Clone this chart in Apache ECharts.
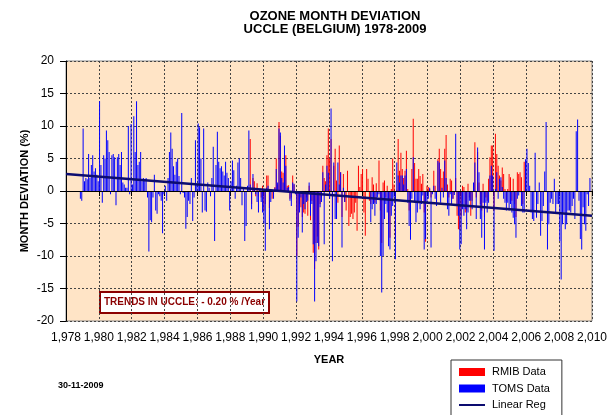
<!DOCTYPE html>
<html>
<head>
<meta charset="utf-8">
<script src="https://cdn.jsdelivr.net/npm/echarts@6/dist/echarts.min.js"></script>
<style>
  html, body { margin: 0; padding: 0; background: #fff; }
  #chart { width: 610px; height: 415px; }
</style>
</head>
<body>
<div id="chart"></div>
<script>
    // monthly ozone deviations (%), one row per year, Jan..Dec
    var tomsStart = 1978;
    var toms = [
        null, null, null, null, null, null, null, null, null, null, -1.2, -1.5,   // 1978
        9.6, 1.5, 2.0, 1.8, 5.7, 2.0, 4.0, 5.5, 3.0, 3.5, 2.5, 1.5,               // 1979
        13.8, 4.0, -1.8, 5.5, 5.0, 9.3, 7.8, 6.0, -0.5, 5.5, 5.7, 5.2,            // 1980
        -2.2, 5.2, 5.7, 4.0, 6.0, 1.3, 1.0, 0.5, 0.5, 10.0, -0.5, 10.3,           // 1981
        1.0, 11.5, 6.0, 13.8, 4.0, 4.5, 6.0, 1.5, 2.0, 1.8, 2.0, -1.0,            // 1982
        -9.3, -4.5, -4.8, -1.0, 2.5, -3.0, -3.5, -0.5, -0.8, -1.5, -6.5, -0.5,    // 1983
        0.8, -1.5, 2.0, 6.0, 9.0, 6.5, 3.8, 2.5, 4.5, 5.0, 2.3, -0.5,             // 1984
        12.0, -0.3, -1.0, -5.8, -4.0, -1.5, -2.0, 2.0, -4.6, -1.0, 7.8, 1.0,      // 1985
        10.4, 9.8, 5.0, -3.3, 9.6, -3.0, -3.2, 1.3, 0.5, -0.8, 2.0, 6.8,          // 1986
        -7.7, 4.0, 9.1, 4.5, 3.5, 3.8, 3.0, 2.4, 4.5, 2.8, 2.0, -3.0,             // 1987
        1.5, 4.7, 3.2, -1.2, 0.8, 4.4, 5.0, 2.0, -2.2, 0.5, -7.7, -5.4,           // 1988
        0.8, 9.3, 1.0, -2.8, 2.6, 0.5, -0.5, -1.7, -3.3, 0.3, -1.7, -3.3,         // 1989
        -5.0, -9.2, 0.5, 0.8, -5.9, -1.7, 0.2, -1.2, 0.5, 3.4, 1.3, 9.6,          // 1990
        9.0, 2.0, 1.3, 7.0, 3.9, 0.5, 0.6, -1.5, -2.3, 1.3, 1.1, -0.5,            // 1991
        -17.0, -7.2, -3.3, -1.0, -6.4, -2.0, -2.8, -1.7, -1.5, 1.3, -3.8, -2.0,   // 1992
        -8.2, -17.0, -10.8, -8.0, -8.5, -2.5, -1.7, 2.9, -8.2, 1.0, 3.9, 2.8,     // 1993
        -1.2, 12.7, -10.8, 4.4, -4.3, -4.3, 4.4, 1.0, 2.9, -8.7, 0.5, -1.7,       // 1994
        null, null, null, null, null, null, null, null, null, null, null, null,   // 1995
        null, null, null, null, null, null, -4.8, -2.8, -2.0, -3.8, -2.0, -1.0,   // 1996
        -0.5, -10.0, -15.6, -10.0, -4.3, -2.0, -3.3, -8.5, -9.0, -3.8, -2.3, -1.0, // 1997
        -10.5, 4.4, 2.4, 1.3, 2.4, 2.4, 1.0, 2.4, 3.4, -1.8, -5.4, -7.5,          // 1998
        -1.2, 5.2, -1.8, -4.8, -3.3, -1.8, -2.8, -2.0, -0.7, -9.0, -7.4, -1.8,    // 1999
        -1.2, 0.5, -8.7, -0.5, 0.8, -1.2, -2.3, 4.6, 4.4, -1.8, 0.5, -1.0,        // 2000
        4.7, 2.0, -2.8, -3.8, -0.5, -2.0, -1.2, -0.6, 8.8, -2.0, -3.8, -9.0,      // 2001
        -8.2, -2.8, -3.8, -2.8, -5.9, -3.3, -1.5, -1.5, -2.8, 1.3, 4.4, -4.3,     // 2002
        6.7, 2.9, -4.3, -7.2, -1.8, -9.0, -1.8, -3.3, -1.8, 2.4, 3.9, 2.4,        // 2003
        -9.2, 0.3, 2.9, -1.2, 1.9, 2.1, 0.6, -1.2, -1.8, -3.0, -1.8, -3.0,        // 2004
        -2.0, -3.3, -4.1, -5.1, -7.2, -1.2, -0.7, -0.2, -2.3, -3.3, -3.3, 4.9,    // 2005
        6.5, 4.3, 0.8, -3.3, -4.3, -4.6, 5.9, -4.1, -2.0, 1.3, -6.9, -4.6,        // 2006
        -2.3, 3.0, 10.6, -9.0, -5.1, -1.8, -1.2, -2.0, 1.9, -3.3, -2.0, -2.0,     // 2007
        -7.7, -13.6, -5.1, -3.3, -5.9, -5.1, -3.0, -3.0, -3.3, -2.3, -1.2, -4.3,  // 2008
        9.2, 11.0, -1.5, -7.4, -9.0, -2.5, -5.1, -6.1, -0.5, -2.3, 2.0, null      // 2009
    ];

    var rmibStart = 1989;
    var rmib = [
        null, null, 8.0, -2.0, 2.0, 1.5, -0.8, 1.2, -0.8, 0.2, -1.0, 0.8,         // 1989
        -3.0, -2.0, 2.4, 2.4, -2.6, 0.3, -1.2, -0.5, 0.6, 5.0, 1.0, 10.6,         // 1990
        8.5, 3.0, 2.8, 5.5, 5.5, 0.8, 0.9, -1.2, -1.0, 2.4, 1.0, -0.3,            // 1991
        -10.0, -5.5, -2.0, -2.5, -4.0, -3.3, -3.5, -1.0, -3.8, 0.8, -4.5, -1.5,   // 1992
        -9.5, -12.0, -8.0, -7.0, -9.0, -2.0, -1.0, 3.9, 2.0, 1.5, 5.5, 9.6,       // 1993
        5.0, 8.0, -5.0, 3.9, 6.5, 1.6, -1.8, 7.0, 2.9, -4.0, 2.6, -1.7,           // 1994
        -3.0, 3.1, -5.4, -4.0, -3.5, -4.3, -3.3, -1.8, -6.1, 3.9, 0.6, 2.6,       // 1995
        3.4, -3.3, -6.9, 3.4, 1.9, -1.5, -2.0, 2.1, 1.0, -1.8, 1.2, -0.5,         // 1996
        4.7, -3.0, -8.0, 1.3, 1.6, -1.0, 0.8, -5.0, -7.2, 0.3, 5.0, 1.0,          // 1997
        -7.2, 0.2, 8.0, 3.1, 5.9, 3.4, 2.0, 3.1, 6.2, 0.3, -3.0, -2.0,            // 1998
        3.4, 11.1, 4.3, 1.9, 1.9, 3.4, 2.3, 1.1, 2.6, -3.3, -7.8, 0.8,            // 1999
        0.6, 0.3, -1.0, -0.3, 3.1, 0.8, -1.8, 4.9, 6.5, 3.4, 2.0, 3.0,            // 2000
        6.5, 8.6, 1.0, -1.0, 1.9, 1.6, -1.2, -0.3, 2.0, -3.8, -5.9, -6.0,         // 2001
        -3.8, 0.8, 0.6, -3.3, -3.0, 1.1, -1.0, -3.8, -1.5, 1.1, 7.5, -1.0,        // 2002
        6.0, 1.3, -2.0, -3.0, 1.1, -4.0, -1.0, -1.5, 1.9, 5.2, 7.0, 7.0,          // 2003
        -3.0, 8.8, 5.7, 3.9, 2.4, 1.6, 3.6, 2.6, 0.3, -1.5, 0.3, 2.6,             // 2004
        2.1, -1.5, 1.9, -2.0, -4.0, 2.9, 2.6, 2.9, 2.1, -2.0, 4.5, 4.4            // 2005
    ];

    // linear regression end points [year, %]
    var regression = [[1978, 2.6], [2010, -3.8]];
    var trendLabel = 'TRENDS IN UCCLE: - 0.20 % /Year';
    var dateLabel = '30-11-2009';

    function monthPoints(values, startYear) {
        var pts = [];
        for (var i = 0; i < values.length; i++) {
            if (values[i] === null) continue;
            pts.push([startYear + (i + 0.5) / 12, values[i]]);
        }
        return pts;
    }

    var font = '"Liberation Sans", Arial, sans-serif';
    var chart = echarts.init(document.getElementById('chart'), null, { renderer: 'canvas' });

    // thin horizontal bar inside an 26x8 box, used as the legend line icon
    var lineIcon = 'path://M0,0L0.01,0M0,3L26,3L26,5L0,5ZM0,8L0.01,8';

    var option = {
        animation: false,
        backgroundColor: '#fff',
        textStyle: { fontFamily: font },
        title: {
            text: 'OZONE MONTH DEVIATION\nUCCLE (BELGIUM) 1978-2009',
            left: 330,
            top: 5,
            textAlign: 'center',
            textStyle: { fontSize: 13, fontWeight: 'bold', color: '#000', lineHeight: 13, fontFamily: font }
        },
        legend: {
            orient: 'vertical',
            left: 451,
            top: 360,
            height: 80,
            padding: [6, 12, 6, 8],
            itemGap: 4.5,
            itemWidth: 26,
            itemHeight: 8,
            borderColor: '#333',
            borderWidth: 1,
            backgroundColor: '#fff',
            textStyle: { fontSize: 11, color: '#000', lineHeight: 12, padding: [0, 0, 0, 2], fontFamily: font },
            data: [
                { name: 'RMIB Data', icon: 'rect' },
                { name: 'TOMS Data', icon: 'rect' },
                { name: 'Linear Reg', icon: lineIcon }
            ]
        },
        grid: {
            left: 66, right: 16, top: 61, bottom: 94,
            show: true,
            backgroundColor: '#FFE4C6',
            borderColor: '#888',
            borderWidth: 1
        },
        xAxis: {
            type: 'value',
            min: 1978, max: 2010, interval: 2,
            name: 'YEAR',
            nameLocation: 'middle',
            nameGap: 33,
            nameTextStyle: { fontSize: 11, fontWeight: 'bold', color: '#000' },
            axisLine: { lineStyle: { color: '#000', width: 1 } },
            axisTick: { show: true, length: 5, lineStyle: { color: '#000' } },
            axisLabel: { fontSize: 12, color: '#000', margin: 11, formatter: '{value}' },
            splitLine: { show: true, lineStyle: { color: '#444', type: [2, 2], width: 1 } }
        },
        yAxis: {
            type: 'value',
            min: -20, max: 20, interval: 5,
            name: 'MONTH DEVIATION (%)',
            nameLocation: 'middle',
            nameGap: 36,
            nameMoveOverlap: false,
            nameTextStyle: { fontSize: 11, fontWeight: 'bold', color: '#000' },
            axisLine: { show: true, lineStyle: { color: '#000', width: 1 } },
            axisTick: { show: true, length: 6, lineStyle: { color: '#000' } },
            axisLabel: { fontSize: 12, color: '#000', margin: 12 },
            splitLine: { show: true, lineStyle: { color: '#444', type: [2, 2], width: 1 } }
        },
        series: [
            {
                name: 'RMIB Data',
                type: 'bar',
                barWidth: 1,
                barGap: '-100%',
                itemStyle: { color: '#ff0000' },
                data: monthPoints(rmib, rmibStart)
            },
            {
                name: 'TOMS Data',
                type: 'bar',
                barWidth: 1,
                barGap: '-100%',
                itemStyle: { color: '#0000ff' },
                data: monthPoints(toms, tomsStart),
                markLine: {
                    silent: true,
                    symbol: 'none',
                    label: { show: false },
                    lineStyle: { color: '#000', width: 1, type: 'solid' },
                    data: [{ yAxis: 0 }]
                }
            },
            {
                name: 'Linear Reg',
                type: 'line',
                symbol: 'none',
                z: 5,
                lineStyle: { color: '#0c0c70', width: 2.5 },
                itemStyle: { color: '#0c0c70' },
                data: regression
            }
        ],
        graphic: [
            {
                type: 'group',
                left: 99,
                top: 291,
                z: 100,
                children: [
                    {
                        type: 'rect',
                        shape: { x: 0, y: 0, width: 169, height: 21 },
                        style: { fill: '#fff', stroke: '#8b0000', lineWidth: 2 }
                    },
                    {
                        type: 'text',
                        x: 84.5, y: 10.5,
                        style: {
                            text: trendLabel, fill: '#8b0000', font: 'bold 10px ' + font,
                            textAlign: 'center', textVerticalAlign: 'middle'
                        }
                    }
                ]
            },
            {
                type: 'text',
                left: 58,
                top: 381,
                style: { text: dateLabel, fill: '#000', font: 'bold 9px ' + font }
            }
        ]
    };

    chart.setOption(option);
</script>
</body>
</html>
